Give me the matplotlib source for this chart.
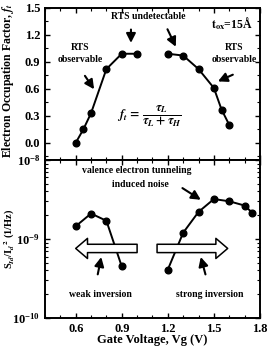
import matplotlib
matplotlib.use("Agg")
import matplotlib.pyplot as plt
from matplotlib.ticker import MultipleLocator, LogLocator, NullFormatter

plt.rcParams['font.family'] = ['Liberation Serif', 'DejaVu Serif']
plt.rcParams['font.weight'] = 'bold'
plt.rcParams['mathtext.fontset'] = 'stix'

# top panel: occupation factor
occ_left_vg = [0.6, 0.65, 0.7, 0.8, 0.9, 1.0]
occ_left_f = [0.0, 0.15, 0.33, 0.82, 0.99, 0.99]
occ_right_vg = [1.2, 1.3, 1.4, 1.5, 1.55, 1.6]
occ_right_f = [0.99, 0.97, 0.82, 0.61, 0.37, 0.20]

# bottom panel: normalized noise
noise_left_vg = [0.6, 0.7, 0.8, 0.9]
noise_left_s = [1.45e-9, 2.1e-9, 1.7e-9, 4.5e-10]
noise_right_vg = [1.2, 1.3, 1.4, 1.5, 1.6, 1.7, 1.75]
noise_right_s = [4.1e-10, 1.2e-9, 2.2e-9, 3.2e-9, 3.0e-9, 2.65e-9, 2.15e-9]

x_ticks = [0.6, 0.9, 1.2, 1.5, 1.8]

fig = plt.figure(figsize=(2.67, 3.57), dpi=100)
ax1 = fig.add_axes([0.1685, 0.552, 0.805, 0.426])
ax2 = fig.add_axes([0.1685, 0.109, 0.805, 0.443], sharex=ax1)

mk = dict(color='black', marker='o', markersize=4.8, linewidth=1.4)
ax1.plot(occ_left_vg, occ_left_f, **mk)
ax1.plot(occ_right_vg, occ_right_f, **mk)
ax1.set_xlim(0.4, 1.8)
ax1.set_ylim(-0.19, 1.5)
ax1.set_yticks([0.0, 0.3, 0.6, 0.9, 1.2, 1.5])
ax1.yaxis.set_minor_locator(MultipleLocator(0.15))
ax1.xaxis.set_minor_locator(MultipleLocator(0.1))
ax1.tick_params(labelbottom=False)
ax1.xaxis.label.set_visible(False)
ax1.xaxis.offsetText.set_visible(False)

ax2.plot(noise_left_vg, noise_left_s, **mk)
ax2.plot(noise_right_vg, noise_right_s, **mk)
ax2.set_yscale('log')
ax2.set_ylim(1e-10, 1e-8)
ax2.set_xticks(x_ticks)
ax2.yaxis.set_minor_locator(LogLocator(base=10, subs=range(2, 10)))
ax2.yaxis.set_minor_formatter(NullFormatter())
ax2.set_xlabel('Gate Voltage, Vg (V)', fontsize=9, fontweight='bold', va='top')
ax2.xaxis.set_label_coords(0.5, -0.1)

for ax in (ax1, ax2):
    ax.tick_params(which='both', direction='in', top=True, right=True, labelsize=9)
    ax.tick_params(which='major', length=3.5, width=1)
    ax.tick_params(which='minor', length=2, width=0.8)
    for s in ax.spines.values():
        s.set_linewidth(1.4)
    for lbl in ax.get_yticklabels() + ax.get_xticklabels():
        lbl.set_fontweight('bold')

fig.text(0.03, 1 - 158 / 357, 'Electron Occupation Factor, $f_t$', rotation=90,
         ha='center', va='bottom', fontsize=8.5, fontweight='bold')
ax2.set_ylabel(r'S$_{Id}$/I$_d$$^2$ (1/Hz)', fontsize=7.5, fontweight='bold', va='center')
ax2.yaxis.set_label_coords(-0.165, 0.5)

small = dict(fontsize=7, fontweight='bold', ha='center', va='center')
arr = dict(arrowstyle='-|>,head_length=0.55,head_width=0.28', color='black', lw=1.5)

# top panel annotations
ax1.text(0.63, 0.99, 'RTS\nobservable', linespacing=1.4, **small)
ax1.annotate('', xy=(0.73, 0.57), xytext=(0.65, 0.77), arrowprops=arr)
ax1.text(1.07, 1.4, 'RTS undetectable', **small)
ax1.annotate('', xy=(0.96, 1.08), xytext=(0.96, 1.29), arrowprops=arr)
ax1.annotate('', xy=(1.26, 1.04), xytext=(1.19, 1.29), arrowprops=arr)
ax1.text(1.63, 0.99, 'RTS\nobservable', linespacing=1.4, **small)
ax1.annotate('', xy=(1.51, 0.67), xytext=(1.64, 0.77), arrowprops=arr)
ax1.text(1.62, 1.32, r'$\mathbf{t_{ox}}$=15Å', fontsize=8.5, fontweight='bold',
         ha='center', va='center')
ax1.text(1.08, 0.3, r'$f_t\,=\,\dfrac{\tau_L}{\tau_L+\tau_H}$', fontsize=9,
         ha='center', va='center')

# bottom panel annotations
ax2.text(1.0, 7.3e-9, 'valence electron tunneling', **small)
ax2.text(1.02, 4.9e-9, 'induced noise', **small)
ax2.annotate('', xy=(1.43, 3.0e-9), xytext=(1.28, 4.6e-9), arrowprops=arr)

big = dict(arrowstyle='simple,head_length=0.85,head_width=1.45,tail_width=0.6',
           fc='white', ec='black', lw=1.1, shrinkA=0, shrinkB=0)
ax2.annotate('', xy=(0.6, 7.6e-10), xytext=(1.0, 7.6e-10), arrowprops=big)
ax2.annotate('', xy=(1.59, 7.6e-10), xytext=(1.13, 7.6e-10), arrowprops=big)

ax2.text(0.76, 2.0e-10, 'weak inversion', **small)
ax2.annotate('', xy=(0.77, 6.4e-10), xytext=(0.74, 3.3e-10), arrowprops=arr)
ax2.text(1.47, 2.0e-10, 'strong inversion', **small)
ax2.annotate('', xy=(1.41, 6.4e-10), xytext=(1.45, 3.3e-10), arrowprops=arr)

fig.savefig('out.png', dpi=100)
